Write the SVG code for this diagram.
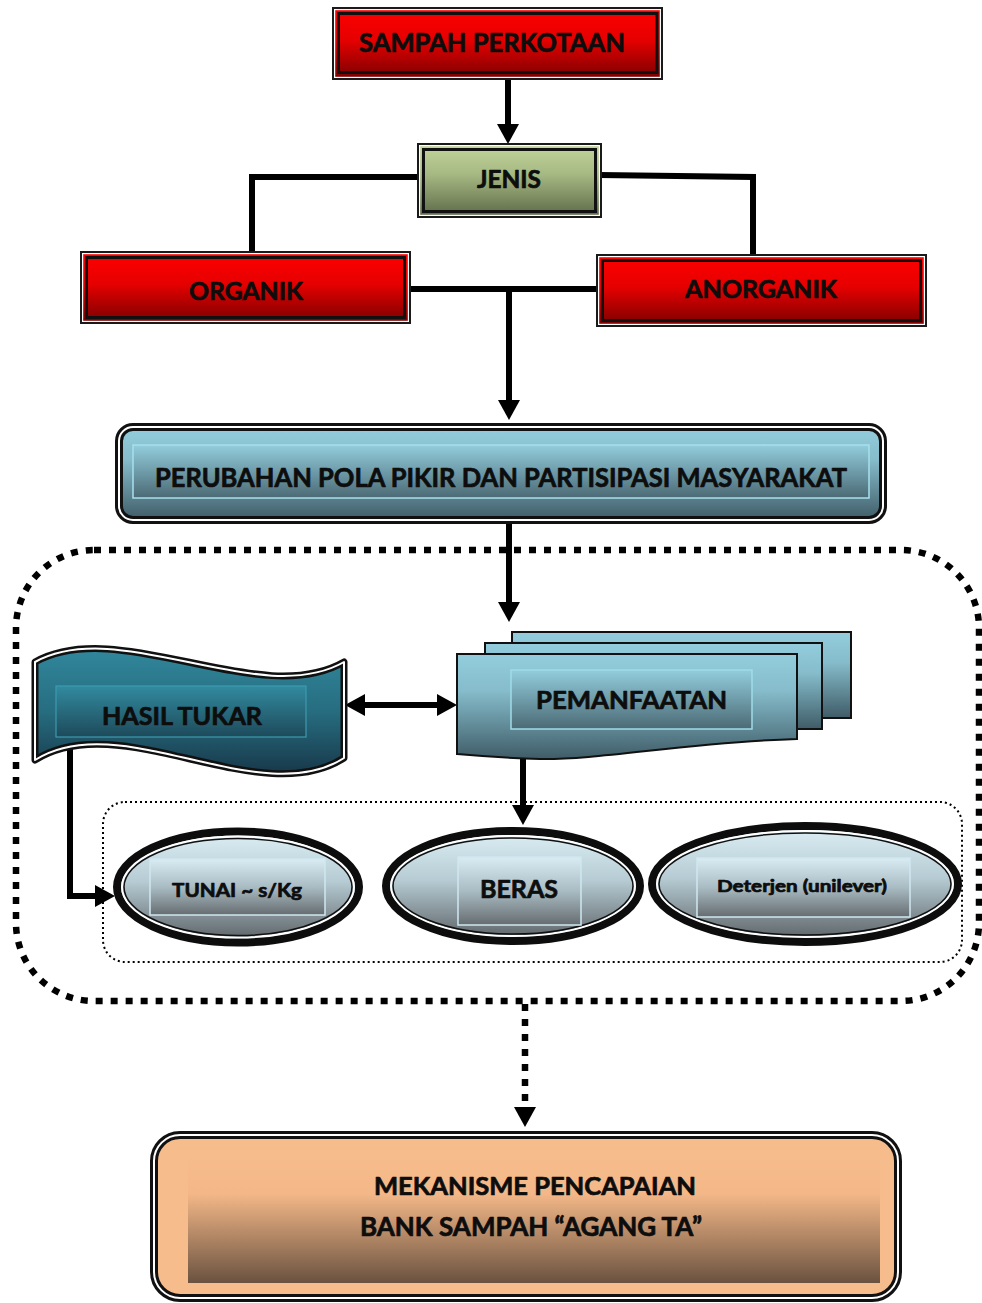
<svg xmlns="http://www.w3.org/2000/svg" width="982" height="1303" viewBox="0 0 982 1303">
<defs>
<linearGradient id="gRed" x1="0" y1="0" x2="0" y2="1"><stop offset="0" stop-color="#ff0000"/><stop offset="0.45" stop-color="#e60000"/><stop offset="1" stop-color="#7a0000"/></linearGradient>
<linearGradient id="gGreen" x1="0" y1="0" x2="0" y2="1"><stop offset="0" stop-color="#c3d69b"/><stop offset="0.4" stop-color="#a8ba84"/><stop offset="1" stop-color="#5c6947"/></linearGradient>
<linearGradient id="gTeal" x1="0" y1="0" x2="0" y2="1"><stop offset="0" stop-color="#93cddd"/><stop offset="0.35" stop-color="#86bccb"/><stop offset="1" stop-color="#3f5c67"/></linearGradient>
<linearGradient id="gTealIn" x1="0" y1="0" x2="0" y2="1"><stop offset="0" stop-color="#93cddd"/><stop offset="1" stop-color="#4b6a75"/></linearGradient>
<linearGradient id="gDark" x1="0" y1="0" x2="0" y2="1"><stop offset="0" stop-color="#31879c"/><stop offset="0.5" stop-color="#276d80"/><stop offset="1" stop-color="#17384a"/></linearGradient>
<linearGradient id="gDarkIn" x1="0" y1="0" x2="0" y2="1"><stop offset="0" stop-color="#328a9f"/><stop offset="1" stop-color="#1d4a5a"/></linearGradient>
<linearGradient id="gEll" x1="0" y1="0" x2="0" y2="1"><stop offset="0" stop-color="#dcefF5"/><stop offset="0.45" stop-color="#b6cbd3"/><stop offset="1" stop-color="#5a6064"/></linearGradient>
<linearGradient id="gEllIn" x1="0" y1="0" x2="0" y2="1"><stop offset="0" stop-color="#daecf3"/><stop offset="0.5" stop-color="#a9bcc3"/><stop offset="1" stop-color="#666c70"/></linearGradient>
<linearGradient id="gPeach" x1="0" y1="0" x2="0" y2="1"><stop offset="0" stop-color="#f7bc8c"/><stop offset="0.3" stop-color="#f4b888"/><stop offset="1" stop-color="#6a5240"/></linearGradient>
<marker id="ah" viewBox="0 0 20 22" refX="0" refY="11" markerWidth="20" markerHeight="22" markerUnits="userSpaceOnUse" orient="auto-start-reverse"><path d="M0,0 L20,11 L0,22 Z" fill="#000"/></marker>
<style>
.t{font-family:Lato,"Open Sans","Liberation Sans",sans-serif;font-weight:700;fill:#0d0d0d;stroke:#0d0d0d;stroke-width:0.7;stroke-linejoin:round}
.ln{fill:none;stroke:#000;stroke-width:6}
.b2{stroke:#1a1a1a;stroke-width:2}
.b3{fill:none;stroke:#111;stroke-width:3}
.wh{fill:none;stroke:#fff;stroke-width:1.2}
.dbl{stroke:#111;stroke-width:8}
.dblw{fill:none;stroke:#fff;stroke-width:2}
.doc{stroke:#111;stroke-width:2}
</style>
</defs>

<g id="group-container">
<rect x="16" y="550" width="963" height="451" rx="78" fill="none" stroke="#000" stroke-width="6.5" stroke-dasharray="7 8"/>
<rect x="103" y="802" width="859" height="160" rx="22" fill="none" stroke="#000" stroke-width="2" stroke-dasharray="2 3"/>
</g>

<g id="connectors">
<path class="ln" d="M508,79 L508,124" marker-end="url(#ah)"/>
<path class="ln" d="M420,177 L252,177 L252,253"/>
<path class="ln" d="M599,175 L753,177 L753,256"/>
<path class="ln" d="M410,289 L598,289"/>
<path class="ln" d="M509,289 L509,400" marker-end="url(#ah)"/>
<path class="ln" d="M509,524 L509,602" marker-end="url(#ah)"/>
<path class="ln" d="M365,705 L437,705" marker-start="url(#ah)" marker-end="url(#ah)"/>
<path class="ln" d="M523,755 L523,805" marker-end="url(#ah)"/>
<path class="ln" d="M70,737 L70,896 L95,896" marker-end="url(#ah)"/>
<path d="M525,1004 L525,1107" fill="none" stroke="#000" stroke-width="6.5" stroke-dasharray="7 8" marker-end="url(#ah)"/>
</g>

<g id="sampah-perkotaan">
<rect x="333" y="8" width="329" height="71" fill="url(#gRed)" class="b2"/>
<rect x="334.6" y="9.6" width="325.8" height="67.8" class="wh"/>
<rect x="338.5" y="13.5" width="318.5" height="59" class="b3"/>
<text class="t" x="359" y="52" font-size="27" textLength="266" lengthAdjust="spacingAndGlyphs">SAMPAH PERKOTAAN</text>
</g>

<g id="jenis">
<rect x="418" y="144" width="183" height="73" fill="url(#gGreen)" class="b2"/>
<rect x="419.6" y="145.6" width="179.8" height="69.8" class="wh"/>
<rect x="423.5" y="149.5" width="172" height="62" class="b3"/>
<text class="t" x="477" y="188" font-size="25" textLength="64" lengthAdjust="spacingAndGlyphs">JENIS</text>
</g>

<g id="organik">
<rect x="81" y="252" width="329" height="71" fill="url(#gRed)" class="b2"/>
<rect x="82.6" y="253.6" width="325.8" height="67.8" class="wh"/>
<rect x="86.5" y="257.5" width="318" height="60" class="b3"/>
<text class="t" x="189" y="300" font-size="25" textLength="114" lengthAdjust="spacingAndGlyphs">ORGANIK</text>
</g>

<g id="anorganik">
<rect x="597" y="255" width="329" height="71" fill="url(#gRed)" class="b2"/>
<rect x="598.6" y="256.6" width="325.8" height="67.8" class="wh"/>
<rect x="602.5" y="260.5" width="318" height="60" class="b3"/>
<text class="t" x="685" y="298" font-size="25" textLength="152" lengthAdjust="spacingAndGlyphs">ANORGANIK</text>
</g>

<g id="perubahan">
<rect x="119" y="427" width="764" height="93" rx="14" fill="url(#gTeal)" class="dbl"/>
<rect x="119" y="427" width="764" height="93" rx="14" class="dblw"/>
<rect x="133" y="445" width="736" height="53" fill="url(#gTealIn)" stroke="#a6e0ec" stroke-width="1.5"/>
<text class="t" x="155" y="487" font-size="27" textLength="692" lengthAdjust="spacingAndGlyphs">PERUBAHAN POLA PIKIR DAN PARTISIPASI MASYARAKAT</text>
</g>

<g id="hasil-tukar">
<path d="M35,662 C120,615 260,710 344,662 L344,758 C260,812 120,706 35,760 Z" fill="url(#gDark)" stroke="#111" stroke-width="7" stroke-linejoin="round"/>
<path d="M35,662 C120,615 260,710 344,662 L344,758 C260,812 120,706 35,760 Z" fill="none" stroke="#fff" stroke-width="2" stroke-linejoin="round"/>
<rect x="56" y="686" width="250" height="51" fill="url(#gDarkIn)" stroke="#3d9ab0" stroke-width="1.2"/>
<text class="t" x="102" y="725" font-size="25" textLength="160" lengthAdjust="spacingAndGlyphs">HASIL TUKAR</text>
</g>

<g id="pemanfaatan">
<rect x="512" y="632" width="339" height="86" fill="url(#gTeal)" class="doc"/>
<rect x="485" y="643" width="337" height="86" fill="url(#gTeal)" class="doc"/>
<path d="M457,654 L797,654 L797,739 C690,742 600,760 540,759 C505,758 480,756 457,754 Z" fill="url(#gTeal)" class="doc"/>
<rect x="511" y="670" width="241" height="59" fill="url(#gTealIn)" stroke="#9fdce8" stroke-width="1.5"/>
<text class="t" x="536" y="709" font-size="25" textLength="191" lengthAdjust="spacingAndGlyphs">PEMANFAATAN</text>
</g>

<g id="tunai">
<ellipse cx="238" cy="887" rx="121" ry="55.5" fill="url(#gEll)" stroke="#0d0d0d" stroke-width="8"/>
<ellipse cx="238" cy="887" rx="116" ry="50.5" fill="none" stroke="#fff" stroke-width="2"/>
<ellipse cx="238" cy="887" rx="114" ry="48.5" fill="none" stroke="#111" stroke-width="1.5"/>
<rect x="150" y="859" width="175" height="56" fill="url(#gEllIn)" stroke="#cfe8f1" stroke-width="1.5"/>
<text class="t" x="172" y="897" font-size="19" textLength="130" lengthAdjust="spacingAndGlyphs">TUNAI ~ s/Kg</text>
</g>

<g id="beras">
<ellipse cx="513" cy="886" rx="127" ry="55" fill="url(#gEll)" stroke="#0d0d0d" stroke-width="8"/>
<ellipse cx="513" cy="886" rx="122" ry="50" fill="none" stroke="#fff" stroke-width="2"/>
<ellipse cx="513" cy="886" rx="120" ry="48" fill="none" stroke="#111" stroke-width="1.5"/>
<rect x="458" y="857" width="123" height="68" fill="url(#gEllIn)" stroke="#cfe8f1" stroke-width="1.5"/>
<text class="t" x="480" y="898" font-size="25" textLength="78" lengthAdjust="spacingAndGlyphs">BERAS</text>
</g>

<g id="deterjen">
<ellipse cx="805" cy="884" rx="153" ry="58" fill="url(#gEll)" stroke="#0d0d0d" stroke-width="8"/>
<ellipse cx="805" cy="884" rx="148" ry="53" fill="none" stroke="#fff" stroke-width="2"/>
<ellipse cx="805" cy="884" rx="146" ry="51" fill="none" stroke="#111" stroke-width="1.5"/>
<rect x="697" y="858" width="213" height="59" fill="url(#gEllIn)" stroke="#cfe8f1" stroke-width="1.5"/>
<text class="t" x="717" y="892" font-size="17" textLength="170" lengthAdjust="spacingAndGlyphs">Deterjen (unilever)</text>
</g>

<g id="mekanisme">
<rect x="154" y="1135" width="744" height="163" rx="26" fill="#f7bc8c" class="dbl"/>
<rect x="154" y="1135" width="744" height="163" rx="26" class="dblw"/>
<rect x="188" y="1155" width="692" height="128" fill="url(#gPeach)"/>
<text class="t" x="374" y="1195" font-size="25" textLength="322" lengthAdjust="spacingAndGlyphs">MEKANISME PENCAPAIAN</text>
<text class="t" x="360" y="1236" font-size="26" textLength="342" lengthAdjust="spacingAndGlyphs">BANK SAMPAH “AGANG TA”</text>
</g>
</svg>
